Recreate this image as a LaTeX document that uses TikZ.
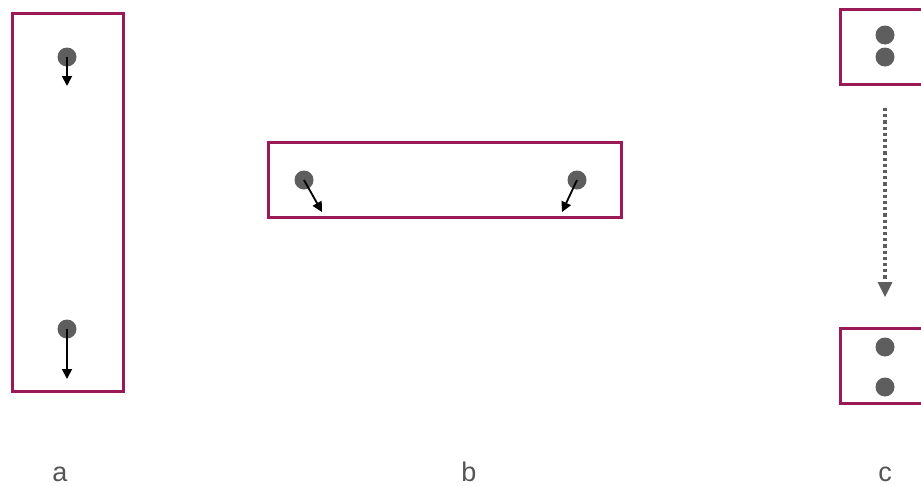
\documentclass[tikz,border=0pt]{standalone}
\usepackage{fontspec}
\setmainfont{Liberation Sans}
\usetikzlibrary{arrows.meta}
\definecolor{boxc}{HTML}{9A1A57}
\definecolor{dotc}{HTML}{5E5E5E}
\definecolor{labc}{HTML}{555555}
\tikzset{
  frame/.style={draw=boxc, line width=3pt},
  ball/.style={circle, fill=dotc, inner sep=0pt, minimum size=19pt},
  vec/.style={line width=1.8pt, -{Triangle[length=10pt,width=10pt]}},
  flow/.style={draw=dotc, line width=3.6pt, dash pattern=on 3.2pt off 3pt, -{Triangle[length=15pt,width=15pt,line width=0pt]}},
  lab/.style={text=labc, font=\fontsize{27}{30}\selectfont, inner sep=0pt, anchor=base}
}
\begin{document}
\begin{tikzpicture}[x=1pt,y=-1pt]
\useasboundingbox (0,0) rectangle (921,485);
\clip (0,0) rectangle (921,485);
% panel a
\draw[frame] (12,13) rectangle (123,391);
\node[ball] (a1) at (67,57) {};
\node[ball] (a2) at (67,329) {};
\coordinate (a1e) at (67,86);
\coordinate (a2e) at (67,379);
\draw[vec] (a1.center) -- (a1e);
\draw[vec] (a2.center) -- (a2e);
% panel b
\draw[frame] (268,142) rectangle (621,217);
\node[ball] (b1) at (304,180) {};
\node[ball] (b2) at (577,180) {};
\coordinate (b1e) at (322,212);
\coordinate (b2e) at (562,212);
\draw[vec] (b1.center) -- (b1e);
\draw[vec] (b2.center) -- (b2e);
% panel c
\draw[frame] (840,9) rectangle (935,84);
\draw[frame] (840,328) rectangle (935,403);
\node[ball] (c1) at (885,35) {};
\node[ball] (c2) at (885,57) {};
\node[ball] (c3) at (885,347) {};
\node[ball] (c4) at (885,387) {};
\coordinate (cs) at (885,108);
\coordinate (ce) at (885,297);
\draw[flow] (cs) -- (ce);
% labels
\node[lab] (la) at (60,481) {a};
\node[lab] (lb) at (469,481) {b};
\node[lab] (lc) at (885,481) {c};
\end{tikzpicture}
\end{document}
